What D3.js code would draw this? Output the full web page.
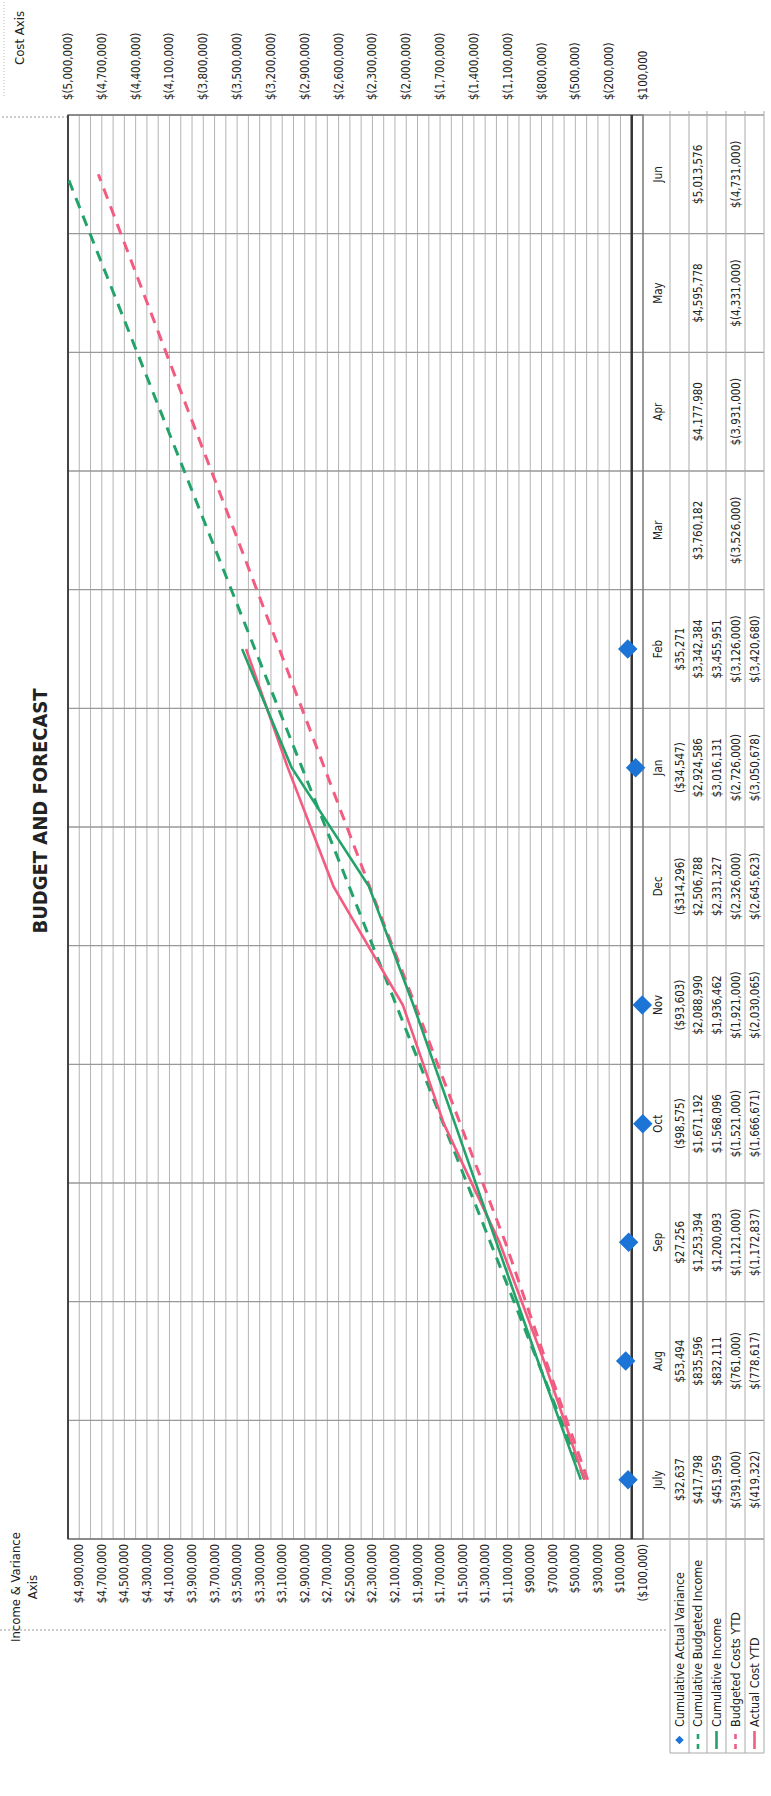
<!DOCTYPE html>
<html lang="en">
<head>
<meta charset="UTF-8">
<title>Budget and Forecast</title>
<script src="https://d3js.org/d3.v7.min.js"></script>
<style>
    body { margin: 0; background: #fff; }
    svg text { font-family: "Liberation Sans Narrow", "DejaVu Sans Condensed", sans-serif; fill: #222; }
</style>
</head>
<body>
<svg id="chart"></svg>
<script>
    // values
    const months = ["July", "Aug", "Sep", "Oct", "Nov", "Dec", "Jan", "Feb", "Mar", "Apr", "May", "Jun"];
    const actualVariance = [32637, 53494, 27256, -98575, -93603, -314296, -34547, 35271, null, null, null, null];
    const budgetedIncome = [417798, 835596, 1253394, 1671192, 2088990, 2506788, 2924586, 3342384, 3760182, 4177980, 4595778, 5013576];
    const cumulativeIncome = [451959, 832111, 1200093, 1568096, 1936462, 2331327, 3016131, 3455951, null, null, null, null];
    const budgetedCosts = [-391000, -761000, -1121000, -1521000, -1921000, -2326000, -2726000, -3126000, -3526000, -3931000, -4331000, -4731000];
    const actualCosts = [-419322, -778617, -1172837, -1666671, -2030065, -2645623, -3050678, -3420680, null, null, null, null];
    const incomeTicks = d3.range(-100000, 4900001, 200000);
    const costTicks = d3.range(-5000000, 100001, 300000);
    const legendNames = ["Cumulative Actual Variance", "Cumulative Budgeted Income", "Cumulative Income", "Budgeted Costs YTD", "Actual Cost YTD"];

    const pageW = 771, pageH = 1796;
    // the chart is laid out landscape and turned a quarter turn
    const W = pageH, H = pageW;
    const plot = {x0: 257, x1: 1681, y0: 68, y1: 643};
    const rowLines = [670, 689, 707, 726, 745, 764];

    const blue = "#1b74d6", green = "#23a36a", pink = "#f25c80";

    const svg = d3.select("#chart").attr("width", pageW).attr("height", pageH);
    const g = svg.append("g").attr("transform", `translate(0,${pageH}) rotate(-90)`);

    const x = d3.scaleBand().domain(months).range([plot.x0, plot.x1]);
    const bw = x.bandwidth();
    const yInc = d3.scaleLinear().domain([-100000, 5000000]).range([plot.y1, plot.y0]);
    const yCost = d3.scaleLinear().domain([100000, -5000000]).range([plot.y1, plot.y0]);

    const fmt = d3.format(",");
    const money = v => v < 0 ? "$(" + fmt(-v) + ")" : "$" + fmt(v);
    const moneyP = v => v < 0 ? "($" + fmt(-v) + ")" : "$" + fmt(v);

    // chart border bits from the scan
    g.append("line").attr("x1", 166).attr("x2", 166).attr("y1", 0).attr("y2", 668)
        .attr("stroke", "#9a9a9a").attr("stroke-dasharray", "2,2");
    g.append("line").attr("x1", plot.x1 - 2).attr("x2", plot.x1 - 2).attr("y1", 2).attr("y2", plot.y0)
        .attr("stroke", "#9a9a9a").attr("stroke-dasharray", "2,2");
    g.append("line").attr("x1", 1700).attr("x2", W).attr("y1", 4).attr("y2", 4)
        .attr("stroke", "#bbb").attr("stroke-dasharray", "1,2");

    // title
    g.append("text").attr("x", 985).attr("y", 47).attr("text-anchor", "middle")
        .style("font-size", "20px").style("font-weight", "bold").text("BUDGET AND FORECAST");

    g.append("text").attr("x", 209).attr("y", 20).attr("text-anchor", "middle")
        .style("font-size", "13px").text("Income & Variance");
    g.append("text").attr("x", 209).attr("y", 37).attr("text-anchor", "middle")
        .style("font-size", "13px").text("Axis");
    g.append("text").attr("x", 1758).attr("y", 24).attr("text-anchor", "middle")
        .style("font-size", "13px").text("Cost Axis");

    // horizontal gridlines every 100k
    g.append("g").selectAll("line")
        .data(d3.range(-100000, 5000001, 100000))
        .join("line")
        .attr("x1", plot.x0).attr("x2", plot.x1)
        .attr("y1", d => yInc(d)).attr("y2", d => yInc(d))
        .attr("stroke", "#b4b4b4").attr("stroke-width", 1);

    // category gridlines, carried down through the data table
    const bounds = months.map(m => x(m)).concat([plot.x1]);
    g.append("g").selectAll("line")
        .data(bounds)
        .join("line")
        .attr("x1", d => d).attr("x2", d => d)
        .attr("y1", plot.y0).attr("y2", rowLines[rowLines.length - 1])
        .attr("stroke", "#999").attr("stroke-width", 1.3);

    // table row lines + legend box
    g.append("g").selectAll("line")
        .data(rowLines)
        .join("line")
        .attr("x1", 43).attr("x2", plot.x1 + 4)
        .attr("y1", d => d).attr("y2", d => d)
        .attr("stroke", "#aaa").attr("stroke-width", 1);
    g.append("line").attr("x1", 43).attr("x2", 43).attr("y1", rowLines[0]).attr("y2", rowLines[5])
        .attr("stroke", "#aaa");
    g.append("line").attr("x1", plot.x0).attr("x2", plot.x0).attr("y1", plot.y1).attr("y2", rowLines[5])
        .attr("stroke", "#aaa");

    // plot frame
    g.append("rect").attr("x", plot.x0).attr("y", plot.y0)
        .attr("width", plot.x1 - plot.x0).attr("height", plot.y1 - plot.y0)
        .attr("fill", "none").attr("stroke", "#777").attr("stroke-width", 1.3);
    g.append("line").attr("x1", plot.x0).attr("x2", plot.x1).attr("y1", plot.y0).attr("y2", plot.y0)
        .attr("stroke", "#444").attr("stroke-width", 2);
    // zero line
    g.append("line").attr("x1", plot.x0).attr("x2", plot.x1).attr("y1", yInc(0)).attr("y2", yInc(0))
        .attr("stroke", "#333").attr("stroke-width", 2.5);

    // left axis labels
    g.append("g").selectAll("text")
        .data(incomeTicks)
        .join("text")
        .attr("x", plot.x0 - 5).attr("y", d => yInc(d) + 4)
        .attr("text-anchor", "end").style("font-size", "11.5px")
        .text(moneyP);

    // right (cost) axis labels
    g.append("g").selectAll("text")
        .data(costTicks)
        .join("text")
        .attr("x", plot.x1 + 15).attr("y", d => yCost(d) + 4)
        .attr("text-anchor", "start").style("font-size", "11.5px")
        .text(money);

    // data table
    g.append("g").selectAll("text")
        .data(months)
        .join("text")
        .attr("x", d => x(d) + bw / 2).attr("y", 662)
        .attr("text-anchor", "middle").style("font-size", "11.5px")
        .text(d => d);

    const rows = [
        {vals: actualVariance, f: moneyP},
        {vals: budgetedIncome, f: money},
        {vals: cumulativeIncome, f: money},
        {vals: budgetedCosts, f: money},
        {vals: actualCosts, f: money}
    ];
    rows.forEach((r, ri) => {
        const yMid = (rowLines[ri] + rowLines[ri + 1]) / 2 + 4;
        g.append("g").selectAll("text")
            .data(r.vals.map((v, i) => ({m: months[i], v: v})).filter(d => d.v != null))
            .join("text")
            .attr("x", d => x(d.m) + bw / 2).attr("y", yMid)
            .attr("text-anchor", "middle").style("font-size", "11.5px")
            .text(d => r.f(d.v));
    });

    // series
    g.append("clipPath").attr("id", "plotClip")
        .append("rect").attr("x", plot.x0).attr("y", plot.y0)
        .attr("width", plot.x1 - plot.x0).attr("height", plot.y1 - plot.y0);
    const layer = g.append("g").attr("clip-path", "url(#plotClip)");

    function drawLine(vals, yScale, color, dashed) {
        const pts = vals.map((v, i) => ({m: months[i], v: v}));
        layer.append("path")
            .datum(pts)
            .attr("fill", "none")
            .attr("stroke", color)
            .attr("stroke-width", dashed ? 3 : 2.6)
            .attr("stroke-dasharray", dashed ? "11,8" : null)
            .attr("d", d3.line()
                .defined(d => d.v != null)
                .x(d => x(d.m) + bw / 2)
                .y(d => yScale(d.v)));
    }
    drawLine(budgetedCosts, yCost, pink, true);
    drawLine(budgetedIncome, yInc, green, true);
    drawLine(actualCosts, yCost, pink, false);
    drawLine(cumulativeIncome, yInc, green, false);

    // variance markers: drawn unclipped, only the ones inside the axis range
    const [vMin, vMax] = yInc.domain();
    const diamond = d3.symbol(d3.symbolSquare, 190);
    g.append("g").selectAll("path")
        .data(actualVariance.map((v, i) => ({m: months[i], v: v}))
            .filter(d => d.v != null && d.v >= vMin && d.v <= vMax))
        .join("path")
        .attr("d", diamond)
        .attr("fill", blue)
        .attr("transform", d => `translate(${x(d.m) + bw / 2},${yInc(d.v)}) rotate(45)`);

    // legend keys inside the table header column
    const keys = g.append("g");
    legendNames.forEach((name, i) => {
        const yMid = (rowLines[i] + rowLines[i + 1]) / 2;
        if (i === 0) {
            keys.append("path").attr("d", d3.symbol(d3.symbolSquare, 36))
                .attr("fill", blue).attr("transform", `translate(56,${yMid}) rotate(45)`);
        } else {
            keys.append("line").attr("x1", 47).attr("x2", 65).attr("y1", yMid).attr("y2", yMid)
                .attr("stroke", i < 3 ? green : pink).attr("stroke-width", 2.6)
                .attr("stroke-dasharray", i % 2 === 1 ? "5,5" : null);
        }
        keys.append("text").attr("x", 69).attr("y", yMid + 4)
            .style("font-size", "12.5px").text(name);
    });
</script>
</body>
</html>
